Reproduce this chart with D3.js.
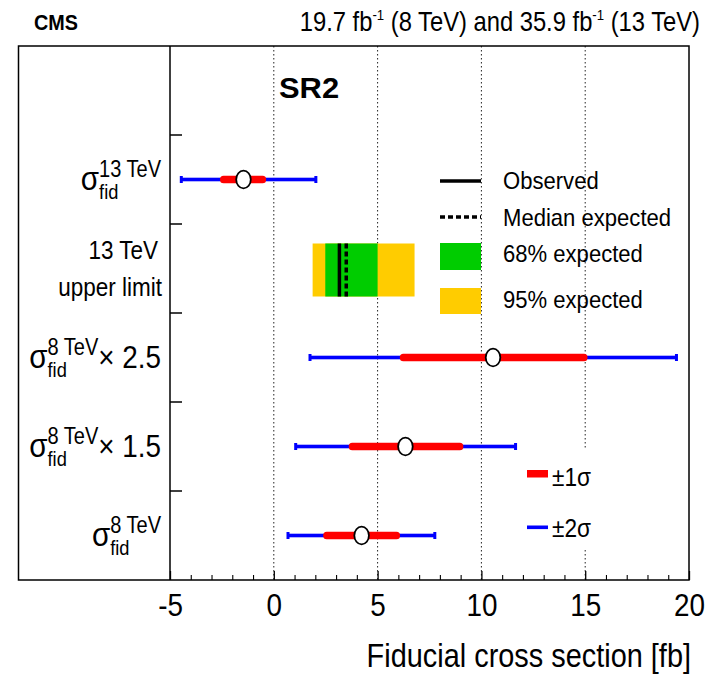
<!DOCTYPE html>
<html>
<head>
<meta charset="utf-8">
<script src="https://cdn.jsdelivr.net/npm/d3@7"></script>
<style>
  html, body { margin: 0; padding: 0; background: #fff; }
  svg { display: block; font-family: "Liberation Sans", Arial, Helvetica, sans-serif; }
</style>
</head>
<body>
<svg id="chart" width="718" height="678"></svg>
<script>
// Row slots, top to bottom (first slot is left empty)
const rowKeys = ["blank", "s13", "limit", "s8x25", "s8x15", "s8"];

// Measurements with 68% and 95% intervals [fb]
const measKeys  = ["s13", "s8x25", "s8x15", "s8"];
const central   = [-1.46, 10.56, 6.34, 4.23];
const oneSigLo  = [-2.59, 6.07, 3.61, 2.38];
const oneSigHi  = [-0.37, 15.11, 9.13, 6.08];
const twoSigLo  = [-4.48, 1.72, 1.03, 0.66];
const twoSigHi  = [2.05, 19.42, 11.67, 7.78];

// 13 TeV upper limit [fb]
const limitObserved = [3.16];
const limitExpected = [3.49];
const band68 = [2.48, 5.0];
const band95 = [1.87, 6.78];

// Axis ticks
const majorTicks = [-5, 0, 5, 10, 15, 20];
const gridTicks = [0, 5, 10, 15];

const svg = d3.select("#chart");
const frame = { left: 18.5, right: 689, top: 46, bottom: 580 };
const axisX0 = 170;

const x = d3.scaleLinear().domain([-5, 20]).range([axisX0, frame.right]);
const y = d3.scaleBand().domain(rowKeys).range([frame.top, frame.bottom]);
const cy = k => y(k) + y.bandwidth() / 2;

const RED = "#ff0000", BLUE = "#0000ff", GREEN = "#00cc00", YELLOW = "#ffcc00";
const SQ = 0.87; // horizontal squeeze of the lettering

function squeezedText(parent, px, py, txt, size, opts = {}) {
  const t = parent.append("text")
    .attr("transform", `translate(${px},${py}) scale(${opts.k || SQ},1)`)
    .attr("font-size", size)
    .attr("text-anchor", opts.anchor || "start")
    .attr("font-weight", opts.bold ? "bold" : null)
    .attr("fill", "#000")
    .text(txt);
  return t;
}

// Header
squeezedText(svg, 34, 30, "CMS", 22, { bold: true, k: 0.9 });
{
  const t = svg.append("text")
    .attr("transform", `translate(700,31) scale(0.88,1)`)
    .attr("text-anchor", "end")
    .attr("font-size", 27);
  t.append("tspan").text("19.7 fb");
  t.append("tspan").attr("font-size", 15).attr("dy", -11).text("-1");
  t.append("tspan").attr("dy", 11).text(" (8 TeV) and 35.9 fb");
  t.append("tspan").attr("font-size", 15).attr("dy", -11).text("-1");
  t.append("tspan").attr("dy", 11).text(" (13 TeV)");
}

// Dotted grid
svg.append("g").selectAll("line").data(gridTicks).join("line")
  .attr("x1", d => x(d)).attr("x2", d => x(d))
  .attr("y1", frame.top).attr("y2", frame.bottom)
  .attr("stroke", "#222").attr("stroke-width", 1)
  .attr("stroke-dasharray", "1.5,2.5");

// Frame and vertical axis line
svg.append("rect")
  .attr("x", frame.left).attr("y", frame.top)
  .attr("width", frame.right - frame.left).attr("height", frame.bottom - frame.top)
  .attr("fill", "none").attr("stroke", "#000").attr("stroke-width", 1.5);
svg.append("line")
  .attr("x1", axisX0).attr("x2", axisX0)
  .attr("y1", frame.top).attr("y2", frame.bottom)
  .attr("stroke", "#000").attr("stroke-width", 1.5);

// Row separators on the vertical axis
svg.append("g").selectAll("line").data(rowKeys.slice(1)).join("line")
  .attr("x1", axisX0).attr("x2", axisX0 + 12)
  .attr("y1", d => y(d)).attr("y2", d => y(d))
  .attr("stroke", "#000").attr("stroke-width", 1.5);

// Bottom axis: major ticks with labels, minor ticks
const xAxis = svg.append("g").attr("transform", `translate(0,${frame.bottom})`)
  .call(d3.axisBottom(x).tickValues(majorTicks).tickSize(-9).tickPadding(13).tickFormat(d => String(d)));
xAxis.select(".domain").remove();
xAxis.selectAll(".tick line").attr("stroke-width", 1.3);
xAxis.selectAll(".tick text")
  .attr("font-size", 32).attr("font-family", "Liberation Sans, Arial, sans-serif")
  .attr("fill", "#000")
  .attr("transform", `scale(${SQ},1)`);
const minorTicks = d3.range(-5, 21).filter(v => v % 5 !== 0);
const xMinor = svg.append("g").attr("transform", `translate(0,${frame.bottom})`)
  .call(d3.axisBottom(x).tickValues(minorTicks).tickSize(-5).tickFormat(""));
xMinor.select(".domain").remove();
xMinor.selectAll(".tick line").attr("stroke-width", 1.1);

squeezedText(svg, 691, 667, "Fiducial cross section [fb]", 34, { anchor: "end", k: 0.85 });

// SR2 tag
squeezedText(svg, 279, 98, "SR2", 30, { bold: true, k: 1.03 });

// White box behind the lower legend
svg.append("rect").attr("x", 520).attr("y", 450).attr("width", 167).attr("height", 100).attr("fill", "#fff");

// Upper limit band
const gl = svg.append("g");
const limTop = cy("limit") - 25, limH = 53;
gl.append("rect").attr("x", x(band95[0])).attr("width", x(band95[1]) - x(band95[0]))
  .attr("y", limTop).attr("height", limH).attr("fill", YELLOW);
gl.append("rect").attr("x", x(band68[0])).attr("width", x(band68[1]) - x(band68[0]))
  .attr("y", limTop).attr("height", limH).attr("fill", GREEN);
gl.selectAll("line.obs").data(limitObserved).join("line").attr("class", "obs")
  .attr("x1", d => x(d)).attr("x2", d => x(d)).attr("y1", limTop).attr("y2", limTop + limH)
  .attr("stroke", "#000").attr("stroke-width", 3.5);
gl.selectAll("line.exp").data(limitExpected).join("line").attr("class", "exp")
  .attr("x1", d => x(d)).attr("x2", d => x(d)).attr("y1", limTop).attr("y2", limTop + limH)
  .attr("stroke", "#000").attr("stroke-width", 3.5).attr("stroke-dasharray", "5,3");

// Measurements
const meas = measKeys.map((k, i) => ({
  k, c: central[i], lo1: oneSigLo[i], hi1: oneSigHi[i], lo2: twoSigLo[i], hi2: twoSigHi[i]
}));
const gm = svg.append("g");
gm.selectAll("rect.two").data(meas).join("rect").attr("class", "two")
  .attr("x", d => x(d.lo2)).attr("width", d => x(d.hi2) - x(d.lo2))
  .attr("y", d => cy(d.k) - 1.8).attr("height", 3.6).attr("fill", BLUE);
gm.selectAll("rect.capL").data(meas).join("rect").attr("class", "capL")
  .attr("x", d => x(d.lo2) - 1).attr("width", 3)
  .attr("y", d => cy(d.k) - 3.5).attr("height", 7).attr("fill", BLUE);
gm.selectAll("rect.capR").data(meas).join("rect").attr("class", "capR")
  .attr("x", d => x(d.hi2) - 2).attr("width", 3)
  .attr("y", d => cy(d.k) - 3.5).attr("height", 7).attr("fill", BLUE);
gm.selectAll("rect.one").data(meas).join("rect").attr("class", "one")
  .attr("x", d => x(d.lo1)).attr("width", d => x(d.hi1) - x(d.lo1))
  .attr("y", d => cy(d.k) - 3.8).attr("height", 7.6).attr("rx", 3.5).attr("fill", RED);
gm.selectAll("ellipse").data(meas).join("ellipse")
  .attr("cx", d => x(d.c)).attr("cy", d => cy(d.k))
  .attr("rx", 7.3).attr("ry", 8.8)
  .attr("fill", "#fff").attr("stroke", "#000").attr("stroke-width", 1.8);

// Upper legend
const lg = svg.append("g");
lg.append("line").attr("x1", 440).attr("x2", 481).attr("y1", 181).attr("y2", 181)
  .attr("stroke", "#000").attr("stroke-width", 3.5);
lg.append("line").attr("x1", 440).attr("x2", 481).attr("y1", 217).attr("y2", 217)
  .attr("stroke", "#000").attr("stroke-width", 3.5).attr("stroke-dasharray", "5,3");
lg.append("rect").attr("x", 440).attr("y", 243).attr("width", 41).attr("height", 27).attr("fill", GREEN);
lg.append("rect").attr("x", 440).attr("y", 288).attr("width", 41).attr("height", 26).attr("fill", YELLOW);
squeezedText(lg, 503, 189, "Observed", 24, { k: 0.92 });
squeezedText(lg, 503, 226, "Median expected", 24, { k: 0.92 });
squeezedText(lg, 503, 262, "68% expected", 24, { k: 0.92 });
squeezedText(lg, 503, 308, "95% expected", 24, { k: 0.92 });

// Lower legend
lg.append("rect").attr("x", 527).attr("y", 470).attr("width", 21).attr("height", 7.5).attr("fill", RED);
lg.append("rect").attr("x", 527).attr("y", 525.5).attr("width", 21).attr("height", 3.6).attr("fill", BLUE);
squeezedText(lg, 552, 486, "±1σ", 26);
squeezedText(lg, 552, 537, "±2σ", 26);

// Row labels
const labelRight = 161;
function sigmaLabel(key, supText, tail) {
  const c = cy(key);
  const g = svg.append("g").attr("transform", `translate(${labelRight},${c}) scale(${SQ},1)`);
  const s = g.append("text").attr("font-size", 34).attr("y", 10).text("σ");
  const sup = g.append("text").attr("font-size", 23).attr("y", -3).text(supText);
  const sub = g.append("text").attr("font-size", 21).attr("y", 20).text("fid");
  const t = tail ? g.append("text").attr("font-size", 32).attr("y", 10).text(tail) : null;
  const ws = s.node().getComputedTextLength();
  const wm = Math.max(sup.node().getComputedTextLength(), sub.node().getComputedTextLength());
  const wt = t ? t.node().getComputedTextLength() : 0;
  const x0 = -(ws + wm + wt);
  s.attr("x", x0);
  sup.attr("x", x0 + ws);
  sub.attr("x", x0 + ws);
  if (t) t.attr("x", x0 + ws + wm);
}
sigmaLabel("s13", "13 TeV", null);
sigmaLabel("s8x25", "8 TeV", "× 2.5");
sigmaLabel("s8x15", "8 TeV", "× 1.5");
sigmaLabel("s8", "8 TeV", null);
squeezedText(svg, 158, cy("limit") - 10, "13 TeV", 25, { anchor: "end", k: 0.9 });
squeezedText(svg, 162, cy("limit") + 27, "upper limit", 25, { anchor: "end", k: 0.9 });
</script>
</body>
</html>
